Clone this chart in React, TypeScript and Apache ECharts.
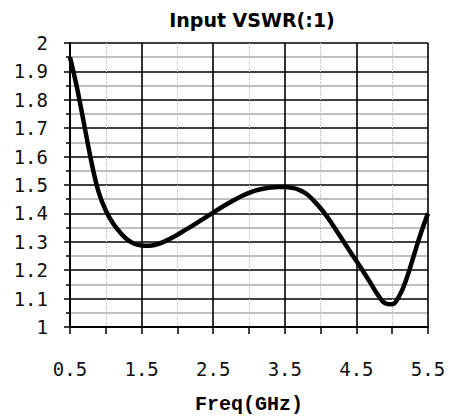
import React, { useEffect, useRef } from "react";
import * as echarts from "echarts";

const freq = [0.5, 0.6, 0.7, 0.8, 0.9, 1.0, 1.1, 1.2, 1.3, 1.4, 1.5, 1.6, 1.7, 1.8, 1.9, 2.0, 2.1, 2.2, 2.3, 2.4, 2.5, 2.6, 2.7, 2.8, 2.9, 3.0, 3.1, 3.2, 3.3, 3.4, 3.5, 3.6, 3.7, 3.8, 3.9, 4.0, 4.1, 4.2, 4.3, 4.4, 4.5, 4.6, 4.7, 4.8, 4.9, 5.0, 5.1, 5.2, 5.3, 5.4, 5.5];
const vswr = [1.95, 1.84, 1.71, 1.58, 1.475, 1.41, 1.365, 1.333, 1.308, 1.293, 1.287, 1.286, 1.29, 1.299, 1.311, 1.325, 1.34, 1.355, 1.371, 1.387, 1.403, 1.419, 1.434, 1.448, 1.461, 1.472, 1.481, 1.487, 1.491, 1.493, 1.493, 1.49, 1.483, 1.469, 1.446, 1.418, 1.385, 1.348, 1.309, 1.27, 1.232, 1.194, 1.154, 1.113, 1.084, 1.08, 1.11, 1.17, 1.25, 1.33, 1.40];

const titleText = "Input VSWR(:1)";
const xName = "Freq(GHz)";

export default function App() {
  const ref = useRef<HTMLDivElement>(null);
  useEffect(() => {
    document.body.style.margin = "0";
    const chart = echarts.init(ref.current!, null, { renderer: "svg" });
    const mono = "'DejaVu Sans Mono', monospace";
    chart.setOption({
      animation: false,
      backgroundColor: "#fff",
      graphic: [
        {
          type: "text",
          x: 252,
          y: 20,
          style: {
            text: titleText,
            font: "bold 19px 'DejaVu Sans', sans-serif",
            fill: "#000",
            align: "center",
            verticalAlign: "middle",
          },
        },
      ],
      grid: { left: 70, right: 23, top: 43, bottom: 91, containLabel: false },
      xAxis: [
        {
          type: "value",
          min: 0.5,
          max: 5.5,
          interval: 0.5,
          name: xName,
          nameLocation: "middle",
          nameGap: 67,
          nameTextStyle: { fontFamily: "'Liberation Mono', monospace", fontWeight: "bold", fontSize: 20, color: "#000" },
          axisLine: { show: true, lineStyle: { color: "#000", width: 2 } },
          axisTick: { show: true, length: 7, lineStyle: { color: "#000", width: 1.5 } },
          axisLabel: {
            margin: 32,
            fontFamily: mono,
            fontSize: 19,
            color: "#111",
            formatter: (v: number) => (Math.round(v * 2) % 2 === 1 ? v.toFixed(1) : ""),
          },
          splitLine: { show: true, lineStyle: { color: ["#000", "transparent"], width: 1.6 } },
        },
        {
          type: "value",
          min: 0.5,
          max: 5.5,
          interval: 0.5,
          position: "top",
          axisLine: { show: false },
          axisTick: { show: false },
          axisLabel: { show: false },
          splitLine: { show: true, lineStyle: { color: ["transparent", "#bbb"], width: 1, type: "dotted" } },
        },
      ],
      yAxis: {
        type: "value",
        min: 1,
        max: 2,
        interval: 0.1,
        axisLine: { show: true, lineStyle: { color: "#000", width: 2 } },
        axisTick: { show: true, length: 6, lineStyle: { color: "#000", width: 1.5 } },
        minorTick: { show: true, splitNumber: 2, length: 4, lineStyle: { color: "#000", width: 1.5 } },
        minorSplitLine: { show: true, lineStyle: { color: "#aaa", width: 1.5 } },
        splitLine: { show: true, lineStyle: { color: "#000", width: 1.6 } },
        axisLabel: {
          margin: 22,
          fontFamily: mono,
          fontSize: 19,
          color: "#111",
          formatter: (v: number) => String(Math.round(v * 10) / 10),
        },
      },
      series: [
        {
          type: "line",
          xAxisIndex: 0,
          data: freq.map((f, i) => [f, vswr[i]]),
          smooth: 0.4,
          showSymbol: false,
          lineStyle: { color: "#000", width: 4.5 },
          z: 5,
        },
      ],
    });
    return () => chart.dispose();
  }, []);
  return <div ref={ref} style={{ width: 451, height: 419 }} />;
}
